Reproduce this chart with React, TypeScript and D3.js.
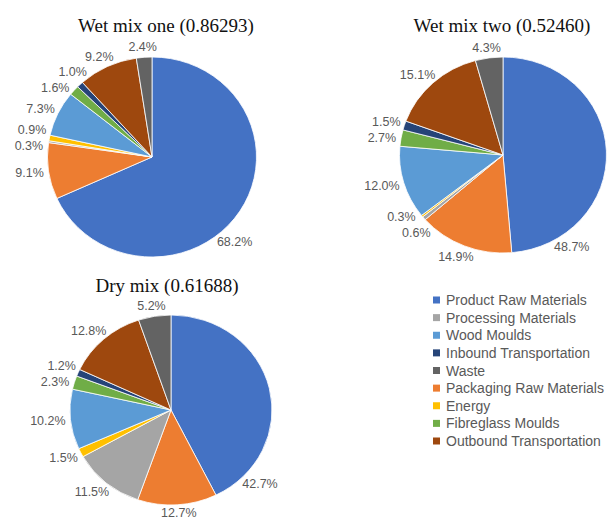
import React, { useMemo } from "react";
import * as d3 from "d3";

// Cost-share breakdown per mix (percent of total)
const categories = [
  "Product Raw Materials",
  "Packaging Raw Materials",
  "Processing Materials",
  "Energy",
  "Wood Moulds",
  "Fibreglass Moulds",
  "Inbound Transportation",
  "Outbound Transportation",
  "Waste",
];

const wetMixOne = [68.2, 9.1, 0.3, 0.9, 7.3, 1.6, 1.0, 9.2, 2.4];
const wetMixTwo = [48.7, 14.9, 0.6, 0.3, 12.0, 2.7, 1.5, 15.1, 4.3];
const dryMix = [42.7, 12.7, 11.5, 1.5, 10.2, 2.3, 1.2, 12.8, 5.2];

const titles = ["Wet mix one (0.86293)", "Wet mix two (0.52460)", "Dry mix (0.61688)"];

const legendOrder = [
  "Product Raw Materials",
  "Processing Materials",
  "Wood Moulds",
  "Inbound Transportation",
  "Waste",
  "Packaging Raw Materials",
  "Energy",
  "Fibreglass Moulds",
  "Outbound Transportation",
];

const palette: Record<string, string> = {
  "Product Raw Materials": "#4472C4",
  "Packaging Raw Materials": "#ED7D31",
  "Processing Materials": "#A5A5A5",
  Energy: "#FFC000",
  "Wood Moulds": "#5B9BD5",
  "Fibreglass Moulds": "#70AD47",
  "Inbound Transportation": "#264478",
  "Outbound Transportation": "#9E480E",
  Waste: "#636363",
};

const WIDTH = 609;
const HEIGHT = 520;

// Layout of the three pies (ellipses: rx x ry)
const layout = [
  { cx: 152, cy: 157, rx: 104.5, ry: 100, tx: 166, ty: 32, leadAngle: 139.5 },
  { cx: 503, cy: 155, rx: 103.5, ry: 98, tx: 502, ty: 32, leadAngle: 147 },
  { cx: 171, cy: 410, rx: 101, ry: 95, tx: 167, ty: 292, leadAngle: 134 },
];

const LABEL_FONT = "12.5px 'Liberation Sans', Arial, sans-serif";
const LABEL_SIZE = 12.5;
const LABEL_H = 12;
const GAP = 5;
const MIN_SPACING = 16;

let ctx: CanvasRenderingContext2D | null = null;
function measure(text: string, font: string) {
  if (!ctx) ctx = document.createElement("canvas").getContext("2d");
  if (!ctx) return text.length * 7;
  ctx.font = font;
  return ctx.measureText(text).width;
}

type Label = { text: string; x: number; y: number; w: number; A: number; B: number; side: number };

function placeLabels(values: number[], L: (typeof layout)[number]) {
  const pie = d3.pie<number>().sort(null).value((d) => d);
  const arcs = pie(values);
  const labels: Label[] = arcs.map((a, i) => {
    const text = `${values[i].toFixed(1)}%`;
    const w = measure(text, LABEL_FONT);
    const deg = i === 0 ? L.leadAngle : (((a.startAngle + a.endAngle) / 2) * 180) / Math.PI;
    const ang = (deg * Math.PI) / 180;
    const A = L.rx + GAP + w / 2;
    const B = L.ry + GAP + LABEL_H / 2;
    const x = A * Math.sin(ang);
    const y = -B * Math.cos(ang);
    return { text, x, y, w, A, B, side: x < 0 ? -1 : 1 };
  });
  // push overlapping labels apart vertically
  for (let iter = 0; iter < 80; iter++) {
    let moved = false;
    for (let i = 0; i < labels.length; i++) {
      for (let j = i + 1; j < labels.length; j++) {
        const p = labels[i];
        const q = labels[j];
        if (p.side !== q.side) continue;
        const xOverlap = Math.abs(p.x - q.x) < (p.w + q.w) / 2 + 2;
        const dy = q.y - p.y;
        if (xOverlap && Math.abs(dy) < MIN_SPACING) {
          const shift = (MIN_SPACING - Math.abs(dy)) / 2;
          const dir = dy >= 0 ? 1 : -1;
          p.y -= dir * shift;
          q.y += dir * shift;
          moved = true;
        }
      }
    }
    if (!moved) break;
  }
  labels.forEach((l) => {
    const c = Math.max(-1, Math.min(1, -l.y / l.B));
    l.x = l.side * l.A * Math.sqrt(1 - c * c);
    // keep the label inside the drawing area
    const maxY = HEIGHT - L.cy - LABEL_H / 2 - 2;
    if (l.y > maxY) l.y = maxY;
  });
  return { arcs, labels };
}

function Pie({ values, title, L }: { values: number[]; title: string; L: (typeof layout)[number] }) {
  const { arcs, labels } = useMemo(() => placeLabels(values, L), [values, L]);
  const arcGen = d3.arc<d3.PieArcDatum<number>>().innerRadius(0).outerRadius(L.ry);
  return (
    <g>
      <text
        x={L.tx}
        y={L.ty}
        textAnchor="middle"
        fontFamily="'Liberation Serif', 'Times New Roman', serif"
        fontSize={19}
        fill="#111111"
      >
        {title}
      </text>
      <g transform={`translate(${L.cx},${L.cy}) scale(${L.rx / L.ry},1)`}>
        {arcs.map((a, i) => (
          <path
            key={i}
            d={arcGen(a) || ""}
            fill={palette[categories[i]]}
            stroke="#ffffff"
            strokeWidth={0.8}
            vectorEffect="non-scaling-stroke"
          />
        ))}
      </g>
      <g transform={`translate(${L.cx},${L.cy})`}>
        {labels.map((l, i) => (
          <text
            key={i}
            x={l.x}
            y={l.y}
            dy="0.36em"
            textAnchor="middle"
            fontFamily="'Liberation Sans', Arial, sans-serif"
            fontSize={LABEL_SIZE}
            fill="#595959"
          >
            {l.text}
          </text>
        ))}
      </g>
    </g>
  );
}

export default function App() {
  const series = [wetMixOne, wetMixTwo, dryMix];
  const legendY = d3.scalePoint<string>().domain(legendOrder).range([300, 441]);
  return (
    <svg
      width={WIDTH}
      height={HEIGHT}
      style={{ position: "absolute", left: 0, top: 0, background: "#ffffff" }}
    >
      {series.map((s, i) => (
        <Pie key={i} values={s} title={titles[i]} L={layout[i]} />
      ))}
      <g>
        {legendOrder.map((name) => (
          <g key={name} transform={`translate(433,${legendY(name)})`}>
            <rect x={0} y={-3.5} width={7} height={7} fill={palette[name]} />
            <text
              x={13}
              y={0}
              dy="0.36em"
              fontFamily="'Liberation Sans', Arial, sans-serif"
              fontSize={14}
              fill="#595959"
            >
              {name}
            </text>
          </g>
        ))}
      </g>
    </svg>
  );
}
